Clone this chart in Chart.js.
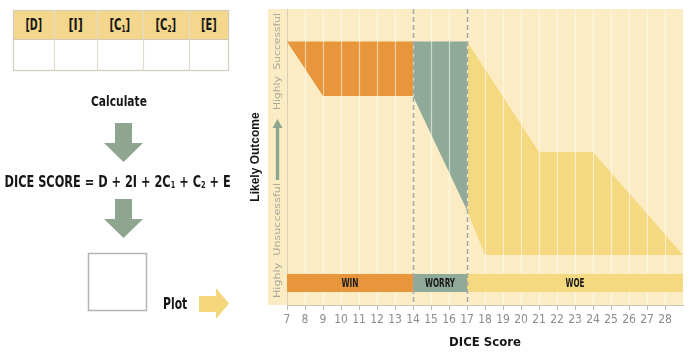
<!DOCTYPE html>
<html>
<head>
<meta charset="utf-8">
<script src="https://cdn.jsdelivr.net/npm/chart.js@4.4.1/dist/chart.umd.min.js"></script>
<style>
  html, body { margin: 0; padding: 0; background: #fff; }
  #wrap { position: relative; width: 691px; height: 352px; overflow: hidden; }
  #c { position: absolute; left: 0; top: 0; }
  .txt {
    position: absolute; white-space: nowrap; line-height: 1;
    font-family: 'Liberation Sans Narrow', 'Arial Narrow', 'DejaVu Sans Condensed', sans-serif;
    font-weight: bold; color: #161616; transform-origin: 50% 50%;
  }
  .sub { font-size: 58%; position: relative; top: 0.2em; }
  .line { position: absolute; background: #d9d3c3; }
</style>
</head>
<body>
<div id="wrap">
  <canvas id="c" width="691" height="352"></canvas>
  <svg width="691" height="352" style="position:absolute;left:0;top:0">
    <!-- input table -->
    <rect x="13.5" y="10.5" width="215" height="29" fill="#f4d68c"/>
    <rect x="13.5" y="10.5" width="215" height="60" fill="none" stroke="#d2ccbb" stroke-width="1.2"/>
    <line x1="13.5" y1="39.5" x2="228.5" y2="39.5" stroke="#cfc8b4" stroke-width="1.2"/>
    <g stroke="#e2dccb" stroke-width="1.2">
      <line x1="54.5" y1="10.5" x2="54.5" y2="70.5"/>
      <line x1="97.5" y1="10.5" x2="97.5" y2="70.5"/>
      <line x1="143.5" y1="10.5" x2="143.5" y2="70.5"/>
      <line x1="189.5" y1="10.5" x2="189.5" y2="70.5"/>
    </g>
    <!-- flow arrows -->
    <polygon fill="#8ea690" points="115,123 132,123 132,143 143,143 123.5,162 104,143 115,143"/>
    <polygon fill="#8ea690" points="115,199 132,199 132,219 143,219 123.5,238 104,219 115,219"/>
    <!-- score box -->
    <rect x="88.5" y="253.5" width="58" height="57" fill="#fff" stroke="#b4b4b4" stroke-width="1.5"/>
    <!-- plot arrow -->
    <polygon fill="#f4d77c" points="199,296 216,296 216,288 229,303.5 216,319 216,312 199,312"/>
  </svg>
  <div id="flow"></div>
</div>
<script>
// Scoring factors in the input table
const factorLabels = ['[D]', '[I]', '[C<span class="sub">1</span>]', '[C<span class="sub">2</span>]', '[E]'];
const formulaText = 'DICE SCORE = D + 2I + 2C<span class="sub">1</span> + C<span class="sub">2</span> + E';

// DICE score axis
const scoreTicks = [7, 8, 9, 10, 11, 12, 13, 14, 15, 16, 17, 18, 19, 20, 21, 22, 23, 24, 25, 26, 27, 28];
const scoreMin = 7;
const scoreMax = 29;

// Outcome zones along the score axis
const zoneNames = ['WIN', 'WORRY', 'WOE'];
const zoneFrom = [7, 14, 17];
const zoneTo = [14, 17, 29];
const zoneBandTop = 10.5;
const zoneBandBottom = 4.4;

// Likely-outcome envelopes (score, outcome) for each zone
const winScore = [7, 14, 14, 9];
const winOutcome = [89, 89, 70.6, 70.6];
const worryScore = [14, 17, 17, 14];
const worryOutcome = [89, 89, 32, 70.6];
const woeScore = [17, 21, 24, 29, 18, 17];
const woeOutcome = [89, 51.7, 51.7, 16.9, 16.9, 32];

const zoneColors = ['#e8963c', '#90aa9a', '#f5d980'];
const CREAM = '#fbecc4';
const NARROW = "'Liberation Sans Narrow', 'Arial Narrow', 'DejaVu Sans Condensed', sans-serif";

// ---- left-hand flow text ----
const flow = document.getElementById('flow');
function addText(html, size, cx, cy, w) {
  const el = document.createElement('div');
  el.className = 'txt';
  el.style.fontSize = size + 'px';
  el.innerHTML = html;
  flow.appendChild(el);
  const w0 = el.offsetWidth, h0 = el.offsetHeight;
  el.style.left = (cx - w0 / 2) + 'px';
  el.style.top = (cy - h0 / 2) + 'px';
  el.style.transform = 'scaleX(' + (w / w0) + ')';
  return el;
}
const headerCenters = [33.5, 75.5, 120, 166, 208.5];
const headerWidths = [17, 14, 21, 21, 16];
factorLabels.forEach((t, i) => addText(t, 15, headerCenters[i], 25.5, headerWidths[i]));
addText('Calculate', 14, 119, 100.5, 56);
addText(formulaText, 15, 117, 182, 226);
addText('Plot', 15, 175, 304, 24);

// ---- chart ----
const pts = (xs, ys) => xs.map((x, i) => ({ x, y: ys[i] }));
const shape = (data, color) => ({
  data, backgroundColor: color, borderWidth: 0, borderColor: 'transparent',
  pointRadius: 0, pointHoverRadius: 0, fill: 'shape', tension: 0
});

const bandSets = zoneNames.map((n, i) => Object.assign(shape(pts(
  [zoneFrom[i], zoneTo[i], zoneTo[i], zoneFrom[i]],
  [zoneBandTop, zoneBandTop, zoneBandBottom, zoneBandBottom]), zoneColors[i]), { label: n }));
const envelopeSets = [
  shape(pts(winScore, winOutcome), zoneColors[0]),
  shape(pts(worryScore, worryOutcome), zoneColors[1]),
  shape(pts(woeScore, woeOutcome), zoneColors[2])
];
const LAST_ENVELOPE = bandSets.length; // drawn last among envelopes

function fitText(ctx, str, cx, cy, w, rot) {
  ctx.save();
  ctx.translate(cx, cy);
  if (rot) ctx.rotate(rot);
  const m = ctx.measureText(str).width;
  ctx.scale(w / m, 1);
  ctx.textAlign = 'center';
  ctx.textBaseline = 'middle';
  ctx.fillText(str, 0, 0);
  ctx.restore();
}

const decor = {
  id: 'decor',
  beforeDraw(chart) {
    const { ctx, chartArea: a } = chart;
    ctx.save();
    ctx.fillStyle = CREAM;
    ctx.fillRect(a.left - 19, a.top, a.right - a.left + 19, a.bottom - a.top);
    ctx.restore();
  },
  afterDatasetDraw(chart, args) {
    if (args.index !== LAST_ENVELOPE) return;
    const { ctx, chartArea: a, scales: { x } } = chart;
    ctx.save();
    ctx.strokeStyle = 'rgba(255,255,255,0.55)';
    ctx.lineWidth = 1.2;
    scoreTicks.slice(1).forEach(v => {
      const px = Math.round(x.getPixelForValue(v)) + 0.5;
      ctx.beginPath(); ctx.moveTo(px, a.top); ctx.lineTo(px, a.bottom); ctx.stroke();
    });
    ctx.restore();
  },
  afterDraw(chart) {
    const { ctx, chartArea: a, scales: { x, y } } = chart;
    ctx.save();
    // zone boundaries
    ctx.strokeStyle = '#a9a8a2';
    ctx.lineWidth = 1.5;
    ctx.setLineDash([5, 3]);
    zoneFrom.slice(1).forEach(v => {
      const px = Math.round(x.getPixelForValue(v)) + 0.5;
      ctx.beginPath(); ctx.moveTo(px, a.top); ctx.lineTo(px, a.bottom); ctx.stroke();
    });
    ctx.setLineDash([]);
    // zone names on the bands
    ctx.fillStyle = '#1a1a1a';
    ctx.font = 'bold 12px ' + NARROW;
    const bandY = y.getPixelForValue((zoneBandTop + zoneBandBottom) / 2);
    const nameWidths = [17, 30, 19];
    zoneNames.forEach((n, i) => {
      const cx = (x.getPixelForValue(zoneFrom[i]) + x.getPixelForValue(zoneTo[i])) / 2;
      fitText(ctx, n, cx, bandY + 0.5, nameWidths[i]);
    });
    // outcome scale column
    const colX = a.left - 9.5;
    ctx.fillStyle = '#aaa79c';
    ctx.font = '9px "DejaVu Sans", sans-serif';
    fitText(ctx, 'Highly  Successful', colX, 61.5, 97, -Math.PI / 2);
    fitText(ctx, 'Highly  Unsuccessful', colX, 240.5, 115, -Math.PI / 2);
    ctx.fillStyle = '#8ea690';
    ctx.beginPath();
    ctx.moveTo(colX - 1.7, 180); ctx.lineTo(colX + 1.7, 180);
    ctx.lineTo(colX + 1.7, 128); ctx.lineTo(colX + 5, 128);
    ctx.lineTo(colX, 119); ctx.lineTo(colX - 5, 128);
    ctx.lineTo(colX - 1.7, 128); ctx.closePath();
    ctx.fill();
    ctx.restore();
  }
};

new Chart(document.getElementById('c'), {
  type: 'line',
  data: { datasets: bandSets.concat(envelopeSets) },
  plugins: [decor],
  options: {
    responsive: false,
    animation: false,
    events: [],
    layout: { padding: { left: 240, right: 8, top: 9, bottom: 0 } },
    plugins: { legend: { display: false }, tooltip: { enabled: false } },
    scales: {
      x: {
        type: 'linear', min: scoreMin, max: scoreMax,
        afterBuildTicks: s => { s.ticks = scoreTicks.map(v => ({ value: v })); },
        afterFit: s => { s.height = 47; },
        grid: { display: true, drawOnChartArea: false, drawTicks: true, tickLength: 5, tickColor: '#bdb8ac', lineWidth: 1 },
        border: { display: true, color: '#c9c3b4', width: 1 },
        ticks: { color: '#8c8c8c', font: { family: NARROW, size: 12 }, padding: 3, maxRotation: 0, autoSkip: false },
        title: { display: true, text: 'DICE Score', color: '#161616',
          font: { family: NARROW, size: 13, weight: 'bold' }, padding: { top: 0, bottom: 2 } }
      },
      y: {
        type: 'linear', min: 0, max: 100,
        afterFit: s => { s.width = 47; },
        grid: { display: false },
        ticks: { display: false },
        border: { display: true, color: '#d8d0bb', width: 1 },
        title: { display: true, text: 'Likely Outcome', color: '#161616',
          font: { family: "'Liberation Sans', Arial, sans-serif", size: 12, weight: 'bold' }, padding: { top: 8, bottom: 0 } }
      }
    }
  }
});
</script>
</body>
</html>
